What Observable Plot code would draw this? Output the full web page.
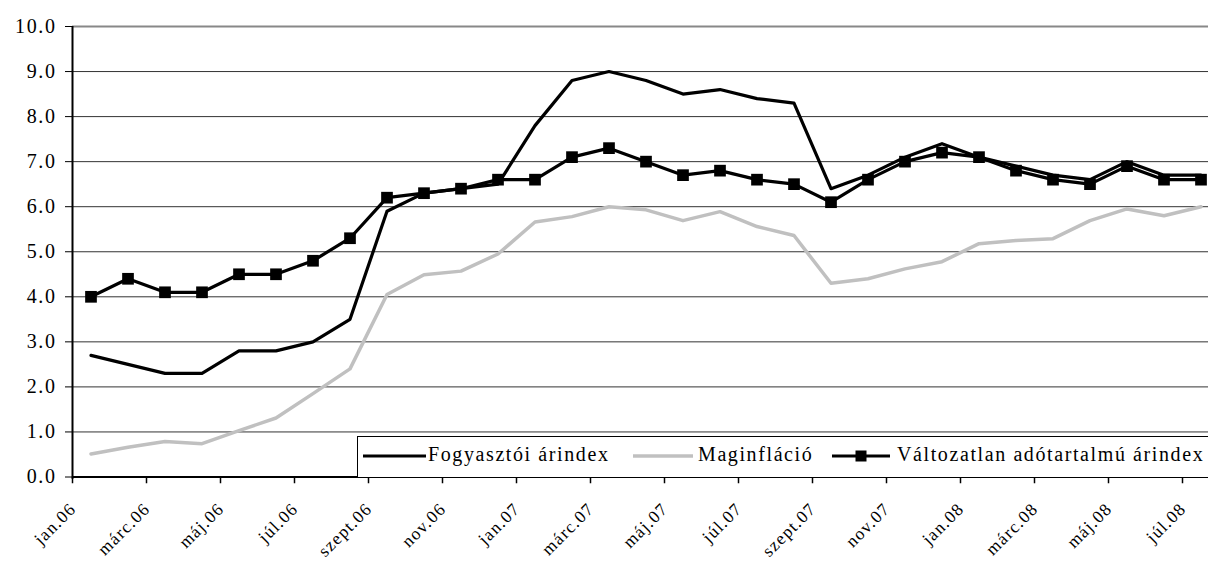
<!DOCTYPE html>
<html><head><meta charset="utf-8">
<script src="https://cdn.jsdelivr.net/npm/d3@7"></script>
<script src="https://cdn.jsdelivr.net/npm/@observablehq/plot@0.6"></script>
<style>
html,body{margin:0;padding:0;background:#fff;overflow:hidden;}
#wrap{position:relative;width:1208px;height:563px;}
#wrap svg text{font-family:"Liberation Serif","Times New Roman",serif;}
[aria-label="y-axis tick label"] text{letter-spacing:1.6px;}
.xlab text{letter-spacing:1.2px;}
#legend{position:absolute;left:357px;top:436px;width:900px;height:40px;border:1px solid #000;background:#fff;
 font-family:"Liberation Serif","Times New Roman",serif;font-size:20px;letter-spacing:1.6px;color:#000;}
#legend .sw{position:absolute;top:12px;}
#legend .tx{position:absolute;top:7px;line-height:20px;white-space:nowrap;}
</style></head><body><div id="wrap"></div>
<script>
// categories (monthly, jan.06 .. júl.08)
const months = ["jan.06","febr.06","márc.06","ápr.06","máj.06","jún.06","júl.06","aug.06","szept.06","okt.06","nov.06","dec.06",
  "jan.07","febr.07","márc.07","ápr.07","máj.07","jún.07","júl.07","aug.07","szept.07","okt.07","nov.07","dec.07",
  "jan.08","febr.08","márc.08","ápr.08","máj.08","jún.08","júl.08"];
// series values (%)
const cpi   = [2.7,2.5,2.3,2.3,2.8,2.8,3.0,3.5,5.9,6.3,6.4,6.5,7.8,8.8,9.0,8.8,8.5,8.6,8.4,8.3,6.4,6.7,7.1,7.4,7.1,6.9,6.7,6.6,7.0,6.7,6.7];
const magin = [0.51,0.66,0.79,0.74,1.03,1.31,1.85,2.40,4.05,4.49,4.57,4.95,5.66,5.78,6.0,5.93,5.69,5.89,5.56,5.36,4.30,4.40,4.62,4.78,5.18,5.25,5.29,5.69,5.95,5.80,6.0];
const vat   = [4.0,4.4,4.1,4.1,4.5,4.5,4.8,5.3,6.2,6.3,6.4,6.6,6.6,7.1,7.3,7.0,6.7,6.8,6.6,6.5,6.1,6.6,7.0,7.2,7.1,6.8,6.6,6.5,6.9,6.6,6.6];
const seriesNames = ["Fogyasztói árindex","Maginfláció","Változatlan adótartalmú árindex"];
// tick labels
const yTicks = [0,1,2,3,4,5,6,7,8,9,10];
const xLabelIdx = months.map((m,i)=>i).filter(i=>i%2===0);
const xTickBounds = months.map((m,i)=>i-0.5).filter((b,k)=>k%2===0);

const data = months.map((m,i)=>({i, m, cpi:cpi[i], magin:magin[i], vat:vat[i]}));
const n = months.length;

const chart = Plot.plot({
  width:1208, height:563, marginLeft:72, marginRight:0, marginTop:26, marginBottom:86.5,
  x:{type:"linear", domain:[-0.5, n-0.5], range:[72, 72 + n*37], axis:null},
  y:{domain:[0,10], axis:null},
  style:{background:"#fff", color:"#000"},
  marks:[
    Plot.ruleY(yTicks.filter(d=>d>0 && d<10), {stroke:"#333", strokeWidth:1}),
    Plot.ruleY([10], {stroke:"#888", strokeWidth:2}),
    Plot.line(data, {x:"i", y:"cpi", stroke:"#000", strokeWidth:3.2}),
    Plot.line(data, {x:"i", y:"magin", stroke:"#c0c0c0", strokeWidth:3.5}),
    Plot.line(data, {x:"i", y:"vat", stroke:"#000", strokeWidth:3.2}),
    Plot.dot(data, {x:"i", y:"vat", symbol:"square", r:6.6, fill:"#000", stroke:null}),
    Plot.ruleX([-0.5], {y1:-0.05, y2:10, stroke:"#000", strokeWidth:2}),
    Plot.ruleY([0], {stroke:"#000", strokeWidth:2}),
    Plot.ruleX(xTickBounds, {y1:0, y2:-0.15, stroke:"#000", strokeWidth:1.5}),
    Plot.axisY(yTicks, {tickSize:7, tickPadding:9, tickFormat:d=>d.toFixed(1), fontSize:20, label:null, stroke:"#000"}),
    Plot.text(xLabelIdx, {x:d=>d, text:d=>months[d], frameAnchor:"bottom", rotate:-45, textAnchor:"end",
      dx:-14, dy:33, fontSize:17.5, fill:"#000", className:"xlab"})
  ]
});
const wrap = document.getElementById("wrap");
wrap.appendChild(chart);

// legend
const lg = document.createElement("div");
lg.id = "legend";
const swatches = [
  {left:5, w:63, color:"#000", sw:3.2, marker:false, tx:70},
  {left:275, w:60, color:"#c0c0c0", sw:3.5, marker:false, tx:340},
  {left:474, w:58, color:"#000", sw:3.2, marker:true, tx:539}
];
swatches.forEach((s,k)=>{
  const svg = `<svg class="sw" style="left:${s.left}px" width="${s.w}" height="14">
    <line x1="0" x2="${s.w}" y1="7" y2="7" stroke="${s.color}" stroke-width="${s.sw}"/>
    ${s.marker ? `<rect x="${s.w/2-5.5}" y="1.5" width="11" height="11" fill="#000"/>` : ""}</svg>`;
  lg.insertAdjacentHTML("beforeend", svg + `<span class="tx" style="left:${s.tx}px">${seriesNames[k]}</span>`);
});
wrap.appendChild(lg);
</script></body></html>
